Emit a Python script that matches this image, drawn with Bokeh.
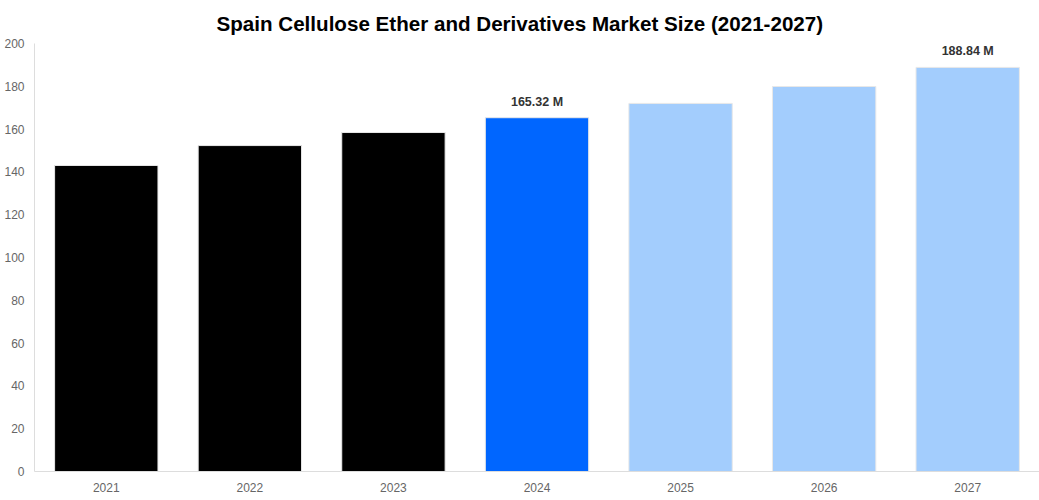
from bokeh.plotting import figure
from bokeh.models import ColumnDataSource, Range1d, LabelSet
from bokeh.core.properties import value
from bokeh.embed import file_html
from bokeh.resources import INLINE

years = ["2021", "2022", "2023", "2024", "2025", "2026", "2027"]
values = [143.0, 152.3, 158.4, 165.32, 172.0, 179.9, 188.84]
colors = ["#000000", "#000000", "#000000", "#0066ff", "#a3cdfd", "#a3cdfd", "#a3cdfd"]
labels = ["", "", "", "165.32 M", "", "", "188.84 M"]
y_ticks = [0, 20, 40, 60, 80, 100, 120, 140, 160, 180, 200]

FONT = "Liberation Sans"

src = ColumnDataSource(dict(x=years, top=values, color=colors, label=labels))

p = figure(x_range=years, y_range=Range1d(0, 200), width=1039, height=500,
           output_backend="svg", toolbar_location=None,
           min_border_left=34, min_border_right=0, min_border_top=43, min_border_bottom=29)

p.title.text = "Spain Cellulose Ether and Derivatives Market Size (2021-2027)"
p.title.align = "left"
p.title.offset = 182
p.title.text_font = FONT
p.title.text_font_size = "20.6px"
p.title.text_font_style = "bold"
p.title.text_color = "#000000"
p.title.standoff = 17

p.vbar(x="x", top="top", width=0.72, color="color", line_color="#e8e8e8", line_width=1, source=src)

p.add_layout(LabelSet(x="x", y="top", text="label", source=src, y_offset=9,
                      text_align="center", text_baseline="bottom",
                      text_font=value(FONT), text_font_size=value("12.5px"), text_font_style="bold",
                      text_color="#333333"))

p.xgrid.visible = False
p.ygrid.visible = False
p.outline_line_color = None

for ax in (p.xaxis[0], p.yaxis[0]):
    ax.axis_line_color = "#dddddd"
    ax.major_tick_line_color = None
    ax.minor_tick_line_color = None
    ax.major_label_text_font = FONT
    ax.major_label_text_font_size = "12px"
    ax.major_label_text_color = "#666666"
    ax.major_tick_out = 0
    ax.major_tick_in = 0

p.yaxis.ticker = y_ticks
p.yaxis.major_label_standoff = 10
p.xaxis.major_label_standoff = 11

open("out.html", "w").write(file_html(p, INLINE))
